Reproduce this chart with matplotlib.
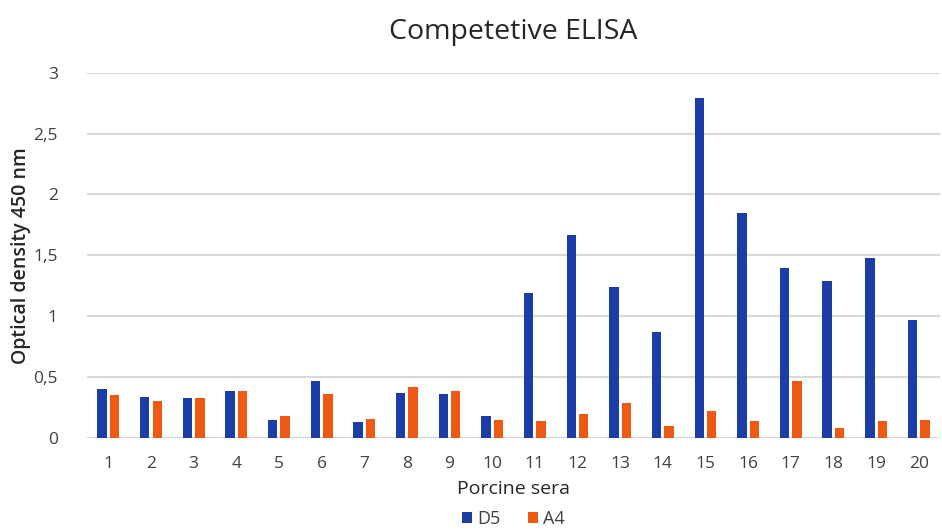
import matplotlib
matplotlib.use("Agg")
import matplotlib.pyplot as plt
import numpy as np

# Competitive ELISA optical densities for 20 porcine sera
sera = [str(i) for i in range(1, 21)]
d5 = [0.40, 0.34, 0.33, 0.39, 0.15, 0.47, 0.13, 0.37, 0.36, 0.18,
      1.19, 1.67, 1.24, 0.87, 2.79, 1.85, 1.40, 1.29, 1.48, 0.97]
a4 = [0.35, 0.30, 0.33, 0.39, 0.18, 0.36, 0.16, 0.42, 0.39, 0.15,
      0.14, 0.20, 0.29, 0.10, 0.22, 0.14, 0.47, 0.08, 0.14, 0.15]
y_ticks = [0, 0.5, 1, 1.5, 2, 2.5, 3]
y_tick_labels = ["0", "0,5", "1", "1,5", "2", "2,5", "3"]

plt.rcParams["font.family"] = ["Open Sans", "DejaVu Sans"]

fig = plt.figure(figsize=(9.42, 5.32), dpi=100)
ax = fig.add_axes([0.0924, 0.1767, 0.9055, 0.6866])

x = np.arange(len(sera))
w = 0.22
off = 0.146
blue = "#1C3CA8"
orange = "#EE5A14"
ax.bar(x - off, d5, width=w, color=blue, label="D5", zorder=3)
ax.bar(x + off, a4, width=w, color=orange, label="A4", zorder=3)

ax.set_xlim(-0.5, len(sera) - 0.5)
ax.set_ylim(0, 3)
ax.set_yticks(y_ticks)
ax.set_yticklabels(y_tick_labels)
ax.set_xticks(x)
ax.set_xticklabels(sera)
ax.yaxis.grid(True, color="#d9d9d9", linewidth=1.5, zorder=0)
ax.set_axisbelow(True)
for s in ["top", "right", "left", "bottom"]:
    ax.spines[s].set_visible(False)
ax.tick_params(axis="both", length=0, labelsize=12.5, colors="#404040")
ax.tick_params(axis="x", pad=13)
ax.tick_params(axis="y", pad=21)

ax.set_title("Competetive ELISA", fontsize=20.5, color="#262626", pad=24)
ax.set_ylabel("Optical density 450 nm", fontsize=14, color="#262626",
              fontweight="semibold")
ax.yaxis.set_label_coords(-0.066, 0.5)
ax.set_xlabel("Porcine sera", fontsize=14, color="#262626", labelpad=6)

leg = fig.legend(loc="center", bbox_to_anchor=(0.545, 0.025), ncol=2,
                 frameon=False, fontsize=13, handlelength=0.55,
                 handleheight=0.55, handletextpad=0.3, columnspacing=1.5,
                 labelcolor="#404040", borderpad=0.1)

fig.savefig("out.png", dpi=100, facecolor="white")
